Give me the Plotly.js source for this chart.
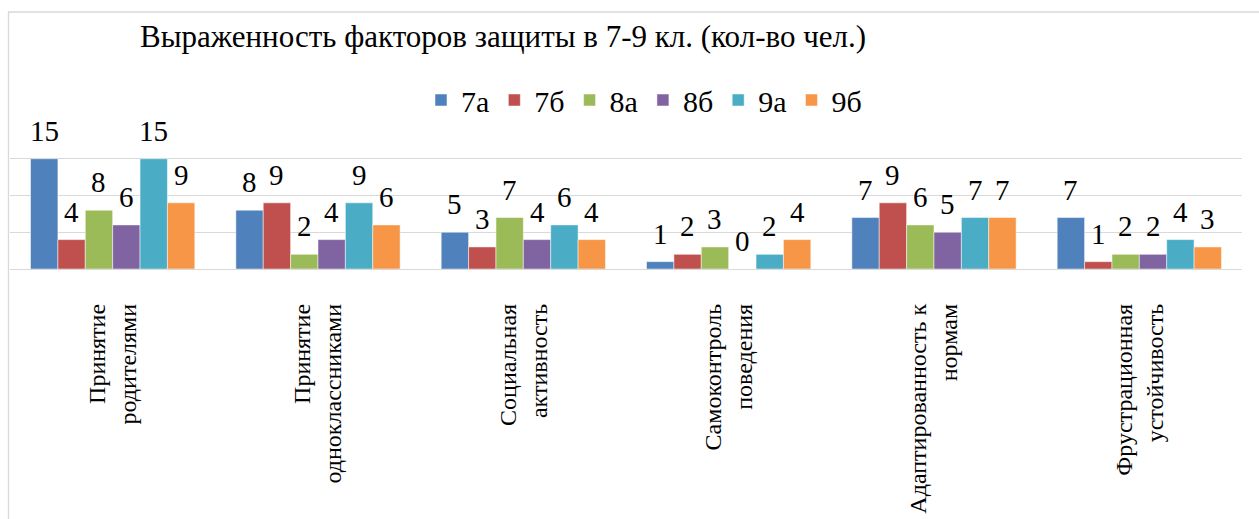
<!DOCTYPE html>
<html>
<head>
<meta charset="utf-8">
<script src="https://cdn.plot.ly/plotly-3.0.1.min.js"></script>
<style>
html,body{margin:0;padding:0;background:#fff;}
#chart{width:1259px;height:519px;}
</style>
</head>
<body>
<div id="chart"></div>
<script>
// ---- data ----
const categories = [
  "Принятие<br>родителями",
  "Принятие<br>одноклассниками",
  "Социальная<br>активность",
  "Самоконтроль<br>поведения",
  "Адаптированность к<br>нормам",
  "Фрустрационная<br>устойчивость"
];
const seriesNames = ["7а", "7б", "8а", "8б", "9а", "9б"];
const v7a = [15, 8, 5, 1, 7, 7];
const v7b = [4, 9, 3, 2, 9, 1];
const v8a = [8, 2, 7, 3, 6, 2];
const v8b = [6, 4, 4, 0, 5, 2];
const v9a = [15, 9, 6, 2, 7, 4];
const v9b = [9, 6, 4, 4, 7, 3];
const seriesValues = [v7a, v7b, v8a, v8b, v9a, v9b];
const colors = ["#4F81BD", "#C0504D", "#9BBB59", "#8064A2", "#4BACC6", "#F79646"];
const titleText = "Выраженность факторов защиты в 7-9 кл. (кол-во чел.)";

const FONT = "Liberation Serif";

const traces = seriesNames.map((name, i) => ({
  type: "bar",
  name: name,
  x: categories,
  y: seriesValues[i],
  marker: {color: colors[i], line: {color: "rgba(255,255,255,0.7)", width: 0.7}}
}));

// plot area: x 10..1242, y 122..269
const W = 1259, H = 519;
const mL = 10, mR = W - 1242, mT = 122, mB = H - 269;
const pw = W - mL - mR, ph = H - mT - mB;
const px = v => (v - mL) / pw;
const py = v => (H - mB - v) / ph;
const BARGAP = 0.2;
const nSeries = seriesNames.length;
const barPx = pw / categories.length * (1 - BARGAP) / nSeries;

// data labels: anchored at each bar's (category, value) on the axes
const annotations = [];
seriesValues.forEach((vals, i) => {
  vals.forEach((v, j) => {
    annotations.push({
      xref: "x", yref: "y",
      x: categories[j], y: v,
      xshift: (i - (nSeries - 1) / 2) * barPx,
      yshift: 10,
      yanchor: "bottom", xanchor: "center",
      showarrow: false,
      text: String(v),
      font: {family: FONT, size: 29, color: "#000000"}
    });
  });
});

const layout = {
  width: W, height: H,
  margin: {l: mL, r: mR, t: mT, b: mB, pad: 0},
  paper_bgcolor: "#ffffff",
  plot_bgcolor: "#ffffff",
  font: {family: FONT, color: "#000000"},
  title: {
    text: titleText,
    font: {family: FONT, size: 31, color: "#000000"},
    xref: "container", yref: "container",
    x: 140 / W, xanchor: "left",
    y: 1 - 36.6 / H, yanchor: "middle"
  },
  barmode: "group",
  bargap: BARGAP,
  bargroupgap: 0,
  showlegend: true,
  legend: {
    orientation: "h",
    x: px(421), xanchor: "left",
    y: py(100), yanchor: "middle",
    font: {family: FONT, size: 30, color: "#000000"},
    bgcolor: "rgba(0,0,0,0)",
    traceorder: "normal"
  },
  xaxis: {
    type: "category",
    tickangle: -90,
    ticks: "outside",
    ticklen: 24,
    tickcolor: "rgba(0,0,0,0)",
    tickfont: {family: FONT, size: 24, color: "#000000"},
    showline: true,
    linecolor: "#d9d9d9",
    linewidth: 1.3,
    showgrid: false,
    fixedrange: true
  },
  yaxis: {
    range: [0, 20],
    dtick: 5,
    showticklabels: false,
    showgrid: true,
    gridcolor: "#d9d9d9",
    gridwidth: 1.3,
    zeroline: false,
    showline: false,
    fixedrange: true
  },
  annotations: annotations,
  shapes: [
    {type: "line", xref: "paper", yref: "paper", x0: px(8), x1: px(W + 5), y0: py(12), y1: py(12),
     line: {color: "#d9d9d9", width: 1.3}},
    {type: "line", xref: "paper", yref: "paper", x0: px(8.5), x1: px(8.5), y0: py(12), y1: py(H + 5),
     line: {color: "#d9d9d9", width: 1.3}}
  ]
};

Plotly.newPlot("chart", traces, layout, {displayModeBar: false, staticPlot: true});
</script>
</body>
</html>
